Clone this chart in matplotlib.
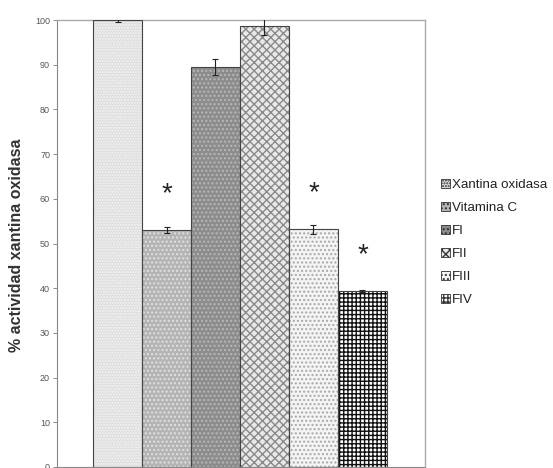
import matplotlib
matplotlib.use("Agg")
import matplotlib.pyplot as plt
from matplotlib.patches import Patch

categories = ["Xantina oxidasa", "Vitamina C", "FI", "FII", "FIII", "FIV"]
values = [100.0, 53.0, 89.4, 98.6, 53.2, 39.4]
errors = [0.5, 0.6, 1.8, 2.0, 1.0, 0.2]
significant = [False, True, False, False, True, True]
yticks = [0, 10, 20, 30, 40, 50, 60, 70, 80, 90, 100]

faces = ["#dedede", "#b4b4b4", "#8c8c8c", "#e8e8e8", "#f4f4f4", "#ffffff"]
hatch_cols = ["#f4f4f4", "#e0e0e0", "#b8b8b8", "#8a8a8a", "#a8a8a8", "#111111"]
hatches = ["......", "....", "....", "xxxx", "....", "++++"]

plt.rcParams['font.family'] = ['Liberation Sans', 'DejaVu Sans']

fig = plt.figure(figsize=(5.53, 4.68), dpi=100)
ax = fig.add_axes([57/553, 1-467/468, (425-57)/553, (467-20)/468])

x = list(range(len(categories)))
for i in x:
    ax.bar(i, values[i], width=1.0, color=faces[i], hatch=hatches[i],
           edgecolor=hatch_cols[i], linewidth=0, zorder=2)
    ax.bar(i, values[i], width=1.0, fill=False, edgecolor="#444444",
           linewidth=0.8, zorder=3)
ax.errorbar(x, values, yerr=errors, fmt="none", ecolor="#222222",
            elinewidth=0.8, capsize=2.5, capthick=0.8, zorder=4)
for i in x:
    if significant[i]:
        ax.text(i, values[i] + 8.0, "*", ha="center", va="center",
                fontsize=20, color="#222222")

ax.set_xlim(-1.235, 6.276)
ax.set_ylim(0, 100)
ax.set_yticks(yticks)
ax.set_yticklabels([str(t) for t in yticks], fontsize=6.5, color="#555555")
ax.tick_params(axis="y", direction="out", length=3, width=0.6, color="#777777", pad=2)
ax.set_xticks([])
for s in ["top", "right"]:
    ax.spines[s].set_color("#aaaaaa")
    ax.spines[s].set_linewidth(1.0)
ax.spines["left"].set_color("#888888")
ax.spines["bottom"].set_color("#888888")
ax.set_ylabel("% actividad xantina oxidasa", fontsize=11.5, fontweight="bold",
              color="#333333")
ax.yaxis.set_label_coords(-(57 - 24) / 368, (467 - 245) / 447)

handles = [Patch(facecolor=faces[i], hatch=hatches[i], edgecolor="#333333",
                 linewidth=0.6) for i in x]
leg = fig.legend(handles, categories, loc="upper left",
                 bbox_to_anchor=(434/553, 1-172/468), frameon=False,
                 fontsize=9.6, handlelength=0.7, handleheight=0.7,
                 handletextpad=0.15, labelspacing=0.8, borderpad=0)
for t in leg.get_texts():
    t.set_color("#222222")

fig.savefig("out.png", dpi=100)
